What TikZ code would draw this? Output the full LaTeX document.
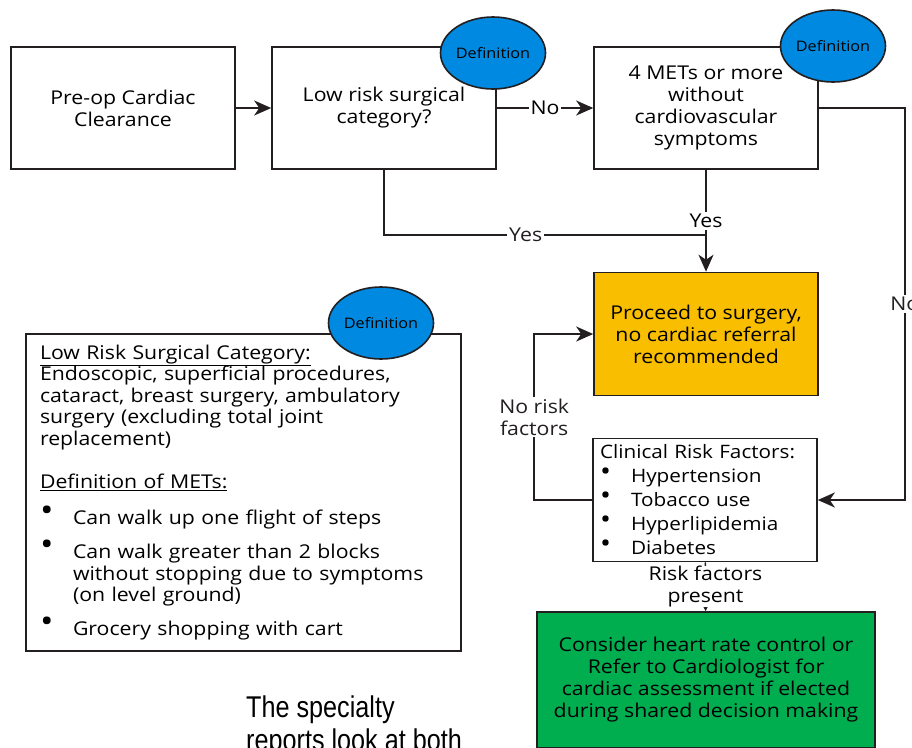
\documentclass[tikz,border=0pt]{standalone}
\usepackage{fontspec}
\setmainfont[FakeStretch=1.12]{Open Sans}
\newfontfamily\bodyfont[FakeStretch=0.84]{Liberation Sans}
\usetikzlibrary{shapes.geometric,arrows.meta}

\definecolor{defblue}{RGB}{0,137,224}
\definecolor{goorange}{RGB}{249,190,0}
\definecolor{refgreen}{RGB}{0,173,79}
\definecolor{inkgray}{RGB}{35,31,32}

\newcommand{\metdot}{{\fontsize{32}{10}\selectfont\raisebox{3pt}{\textbullet}}}
\newcommand{\riskdot}{{\fontsize{26}{10}\selectfont\raisebox{2pt}{\textbullet}}}
\newcommand{\metsitem}[1]{\par\vspace{10pt}\hangindent=33pt\hangafter=1\noindent\makebox[33pt][l]{\metdot}#1}
\newcommand{\riskitem}[1]{\par\noindent\makebox[31pt][l]{\riskdot}#1}

\begin{document}
\begin{tikzpicture}[x=1pt,y=-1pt,
    font=\fontsize{19}{22}\selectfont,
    >={Stealth[length=17pt,width=15pt,inset=5pt]},
    box/.style={draw=inkgray,line width=1.6pt,minimum width=224pt,minimum height=122pt,align=center,inner sep=3pt},
    defn/.style={ellipse,draw=inkgray,line width=1.6pt,fill=defblue,minimum width=100pt,minimum height=72pt,inner sep=0pt,font=\fontsize{14.5}{16}\selectfont},
    lbl/.style={fill=white,inner sep=2pt,align=center}]

  \useasboundingbox (0,0) rectangle (912,747);

  \begin{scope}[every node/.style={box}]
    \node (clear)   at (123,108) {Pre-op Cardiac\\Clearance};
    \node (lowrisk) at (384,108) {Low risk surgical\\category?};
    \node (mets)    at (706,108) {4 METs or more\\without\\cardiovascular\\symptoms};
    \node[fill=goorange,minimum height=123pt] (proceed) at (706,334) {Proceed to surgery,\\no cardiac referral\\recommended};
    \node[align=left,text width=210pt,inner xsep=7pt,minimum height=123pt,font=\fontsize{18.5}{24}\selectfont] (factors) at (705,500)
      {Clinical Risk Factors:\riskitem{Hypertension}\riskitem{Tobacco use}\riskitem{Hyperlipidemia}\riskitem{Diabetes}};
    \node[fill=refgreen,minimum width=338pt,minimum height=136pt] (consider) at (706,680)
      {Consider heart rate control or\\Refer to Cardiologist for\\cardiac assessment if elected\\during shared decision making};
    \node[align=left,text width=407pt,inner xsep=14pt,minimum height=317pt,font=\fontsize{19}{21.5}\selectfont] (lowdef) at (243.5,492.5)
      {\underline{Low Risk Surgical Category:}\\
       Endoscopic, superficial procedures,\\
       cataract, breast surgery, ambulatory\\
       surgery (excluding total joint\\
       replacement)\\[21.5pt]
       \underline{Definition of METs:}\par\vspace{5pt}
       \metsitem{Can walk up one flight of steps}
       \metsitem{Can walk greater than 2 blocks\newline without stopping due to symptoms\newline (on level ground)}
       \metsitem{Grocery shopping with cart}};
  \end{scope}

  \coordinate (yesjoin) at (706,235);

  \begin{scope}[every edge/.style={draw=inkgray,line width=1.6pt}]
    \path (clear)   edge[->] (lowrisk);
    \path (lowrisk) edge[->] node[lbl] {No} (mets);
    \path (mets)    edge[->] node[lbl] {Yes} (proceed);
    \path (factors) edge[-{Stealth[length=5pt,width=5pt]}] node[lbl,inner sep=0pt] {Risk factors\\present} (consider);
  \end{scope}

  \draw[inkgray,line width=1.6pt] (lowrisk.south) |- node[lbl,pos=0.72] {Yes} (yesjoin);
  \draw[inkgray,line width=1.6pt,->] (mets.east) -- ++(86,0) |- node[lbl,pos=0.25] {No} (factors.east);
  \draw[inkgray,line width=1.6pt,->] (factors.west) -- ++(-58,0) |- node[lbl,pos=0.25] {No risk\\factors} (proceed.west);

  \node[defn] (defA) at (493,53) {Definition};
  \node[defn] (defB) at (833,46) {Definition};
  \node[defn] (defC) at (381,323) {Definition};

  \node[anchor=north west,inner sep=0pt,align=left,font=\bodyfont\fontsize{30}{33}\selectfont] (bodytext) at (246,696)
    {The specialty\\reports look at both};

\end{tikzpicture}
\end{document}
